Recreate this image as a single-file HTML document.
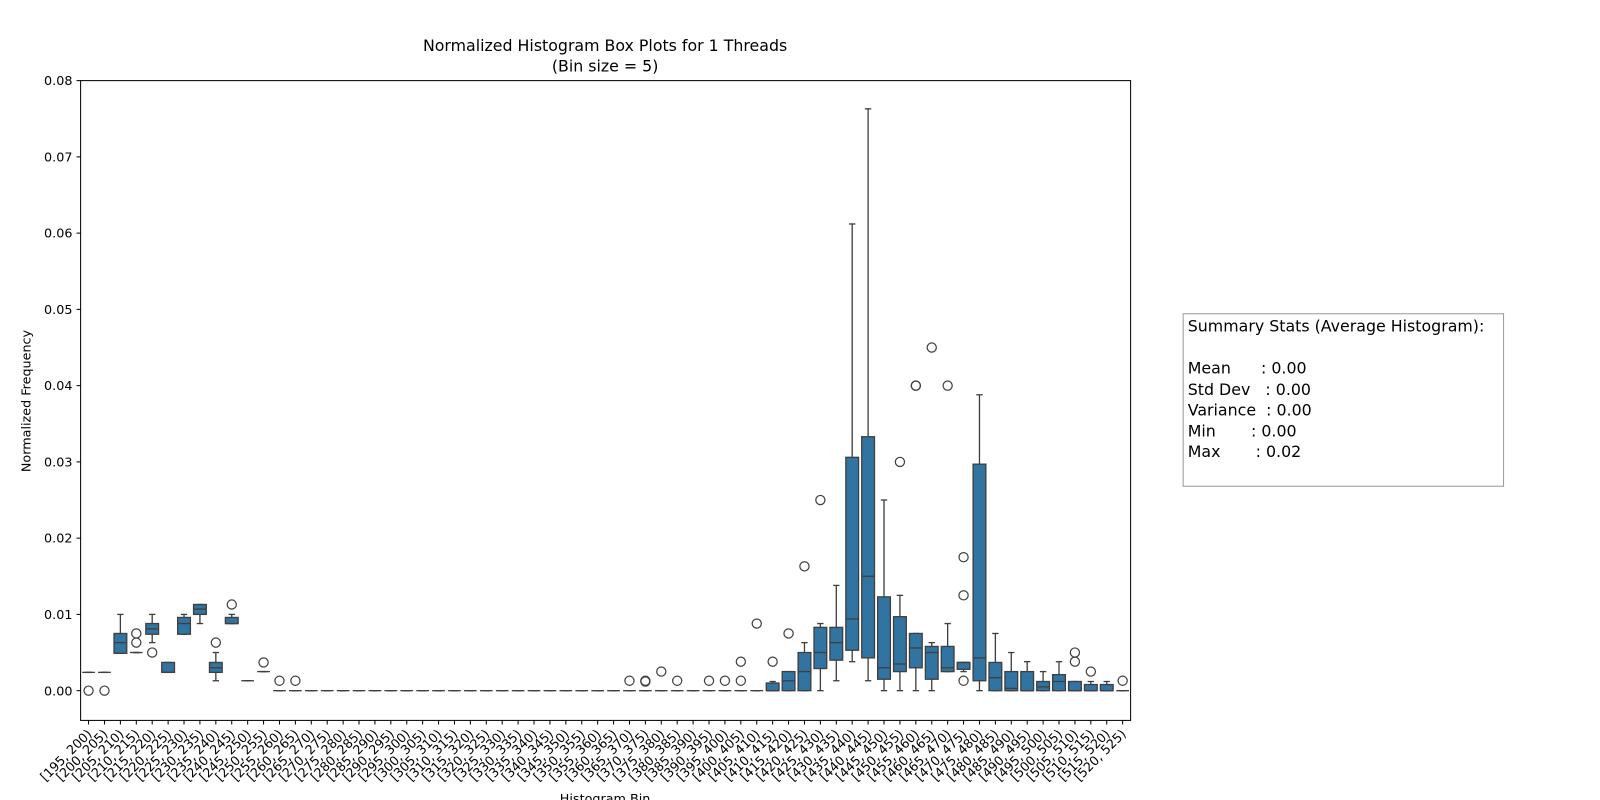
<!DOCTYPE html>
<html><head><meta charset="utf-8"><style>
body{margin:0;background:#fff;width:1600px;height:800px;overflow:hidden;font-family:"DejaVu Sans","Liberation Sans",sans-serif}
#wrap{position:absolute;left:0;top:0;width:1568px;height:784px;transform:scale(1.0204);transform-origin:0 0}
#stats{position:absolute;left:1159px;top:307px;width:315px;height:170px;border:1px solid #999;box-sizing:border-box;padding:2px 4px;font-size:15.5px;line-height:20.5px;white-space:pre;color:#000}
svg text{font-family:"DejaVu Sans","Liberation Sans",sans-serif}
</style></head><body>
<div id="wrap">
<svg id="chart" width="1568" height="784" style="position:absolute;left:0;top:0"></svg>
<div id="stats">Summary Stats (Average Histogram):

Mean      : 0.00
Std Dev   : 0.00
Variance  : 0.00
Min       : 0.00
Max       : 0.02</div>
</div>
<script>
// bins [195,200) .. [520,525)
const binStarts = [];
for (let b = 195; b < 525; b += 5) binStarts.push(b);
const whiskLo = [0.0024,0.0024,0.0049,0.005,0.0063,0.0024,0.0074,0.0088,0.0013,0.0088,0.0013,0.0025,0,0,0,0,0,0,0,0,0,0,0,0,0,0,0,0,0,0,0,0,0,0,0,0,0,0,0,0,0,0,0,0,0,0,0,0.0013,0.0038,0.0013,0,0,0,0,0.0025,0.0025,0,0,0,0,0,0,0,0,0,0];
const q1s = [0.0024,0.0024,0.0049,0.005,0.0074,0.0024,0.0074,0.0100,0.0024,0.0088,0.0013,0.0025,0,0,0,0,0,0,0,0,0,0,0,0,0,0,0,0,0,0,0,0,0,0,0,0,0,0,0,0,0,0,0,0,0,0,0.0029,0.004,0.0053,0.0043,0.0015,0.0025,0.003,0.0015,0.0025,0.0028,0.0013,0,0,0,0,0,0,0,0,0];
const medians = [0.0024,0.0024,0.0063,0.005,0.0081,0.0024,0.0088,0.0107,0.003,0.0088,0.0013,0.0025,0,0,0,0,0,0,0,0,0,0,0,0,0,0,0,0,0,0,0,0,0,0,0,0,0,0,0,0,0,0,0,0,0.0013,0.0025,0.005,0.0063,0.0094,0.015,0.003,0.0035,0.0056,0.005,0.003,0.0037,0.0043,0.0017,0.0003,0,0.0005,0.0012,0,0,0,0];
const q3s = [0.0024,0.0024,0.0075,0.005,0.0088,0.0037,0.0096,0.0113,0.0037,0.0096,0.0013,0.0025,0,0,0,0,0,0,0,0,0,0,0,0,0,0,0,0,0,0,0,0,0,0,0,0,0,0,0,0,0,0,0,0.001,0.0025,0.005,0.0083,0.0083,0.0306,0.0333,0.0123,0.0097,0.0075,0.0058,0.0058,0.0037,0.0297,0.0037,0.0025,0.0025,0.0012,0.0021,0.0012,0.0008,0.0008,0];
const whiskHi = [0.0024,0.0024,0.010,0.005,0.010,0.0037,0.010,0.0113,0.005,0.010,0.0013,0.0025,0,0,0,0,0,0,0,0,0,0,0,0,0,0,0,0,0,0,0,0,0,0,0,0,0,0,0,0,0,0,0,0.0012,0.0025,0.0063,0.0088,0.0138,0.0612,0.0763,0.025,0.0125,0.0075,0.0063,0.0088,0.0037,0.0388,0.0075,0.005,0.0038,0.0025,0.0038,0.0012,0.0012,0.0012,0];
const outliers = [[0],[0],[],[0.0075,0.0063],[0.005],[],[],[],[0.0063],[0.0113],[],[0.0037],[0.0013],[0.0013],[],[],[],[],[],[],[],[],[],[],[],[],[],[],[],[],[],[],[],[],[0.0013],[0.0013,0.0012],[0.0025],[0.0013],[],[0.0013],[0.0013],[0.0013,0.0038],[0.0088],[0.0038],[0.0075],[0.0163],[0.025],[],[],[],[],[0.030],[0.04,0.04],[0.045],[0.04],[0.0175,0.0125,0.0013],[],[],[],[],[],[],[0.005,0.0038],[0.0025],[],[0.0013]];
const yTicks = [0,0.01,0.02,0.03,0.04,0.05,0.06,0.07,0.08];

const NS="http://www.w3.org/2000/svg";
const svg=document.getElementById('chart');
const L=79,R=1108,T=79,B=706,ymin=-0.0039,ymax=0.08;
const n=binStarts.length, bw=(R-L)/n;
const xs=i=>L+bw*(i+0.5);
const ys=v=>B-(v-ymin)/(ymax-ymin)*(B-T);
function mk(tag,attrs,parent){const e=document.createElementNS(NS,tag);for(const k in attrs)e.setAttribute(k,attrs[k]);(parent||svg).appendChild(e);return e;}

const title=mk('text',{x:593,y:50,'text-anchor':'middle','font-size':15.5});


title.textContent='Normalized Histogram Box Plots for 1 Threads';
const title2=mk('text',{x:593,y:70,'text-anchor':'middle','font-size':15.5});


title2.textContent='(Bin size = 5)';

yTicks.forEach(t=>{const y=ys(t);
 mk('line',{x1:L-4,x2:L,y1:y,y2:y,stroke:'#000'});
 const tx=mk('text',{x:L-8,y:y+4.5,'text-anchor':'end','font-size':12.5});
 
 
 tx.textContent=t.toFixed(2);});
const yl=mk('text',{x:0,y:0,transform:'translate(30,393) rotate(-90)','text-anchor':'middle','font-size':12.5});


yl.textContent='Normalized Frequency';
const xl=mk('text',{x:593,y:787,'text-anchor':'middle','font-size':12.5});


xl.textContent='Histogram Bin';

const edge='#3f3f3f', fill='#3274a1', hw=bw*0.4;
for(let i=0;i<n;i++){
 const x=xs(i);
 const g=mk('g',{});
 
 
 mk('line',{x1:x,x2:x,y1:ys(whiskLo[i]),y2:ys(q1s[i]),stroke:edge,'stroke-width':1.3},g);
 mk('line',{x1:x,x2:x,y1:ys(q3s[i]),y2:ys(whiskHi[i]),stroke:edge,'stroke-width':1.3},g);
 mk('line',{x1:x-hw/2,x2:x+hw/2,y1:ys(whiskLo[i]),y2:ys(whiskLo[i]),stroke:edge,'stroke-width':1.3},g);
 mk('line',{x1:x-hw/2,x2:x+hw/2,y1:ys(whiskHi[i]),y2:ys(whiskHi[i]),stroke:edge,'stroke-width':1.3},g);
 const h=Math.max(ys(q1s[i])-ys(q3s[i]),0);
 mk('rect',{x:x-hw,y:ys(q3s[i]),width:2*hw,height:h,fill:fill,stroke:edge,'stroke-width':1.3},g);
 mk('line',{x1:x-hw,x2:x+hw,y1:ys(medians[i]),y2:ys(medians[i]),stroke:edge,'stroke-width':1.3},g);
 outliers[i].forEach(o=>mk('circle',{cx:x,cy:ys(o),r:4.5,fill:'none',stroke:edge,'stroke-width':1.2},g));
 mk('line',{x1:x,x2:x,y1:B,y2:B+4,stroke:'#000'});
 const lab=mk('text',{x:0,y:0,transform:`translate(${x+4},${B+14}) rotate(-45)`,'text-anchor':'end','font-size':12.5});
 
 
 lab.textContent=`[${binStarts[i]}, ${binStarts[i]+5})`;
}
const frame=mk('rect',{x:L,y:T,width:R-L,height:B-T,fill:'none',stroke:'#000','stroke-width':1});


</script>
</body></html>
